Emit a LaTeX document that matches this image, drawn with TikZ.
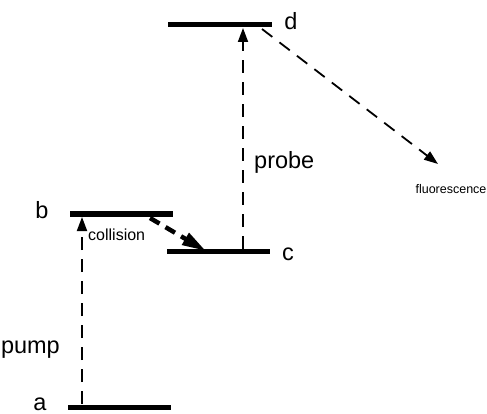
\documentclass[tikz,border=0pt]{standalone}
\usepackage{fontspec}
\setmainfont{Liberation Sans}
\usetikzlibrary{arrows.meta}
\begin{document}
\begin{tikzpicture}[x=1pt,y=-1pt,
  level/.style={line width=5pt},
  trans/.style={line width=1.8pt, dash pattern=on 13pt off 9pt, -{Triangle[length=14pt,width=10pt]}},
  lab/.style={font=\fontsize{23.5}{23.5}\selectfont, inner sep=0pt},
  small/.style={font=\fontsize{16}{16}\selectfont, inner sep=0pt}]
\useasboundingbox (0,0) rectangle (487,414);
% levels
\coordinate (dL) at (168,25); \coordinate (dR) at (272,25);
\coordinate (bL) at (70,214); \coordinate (bR) at (173,214);
\coordinate (cL) at (167,251); \coordinate (cR) at (270,251);
\coordinate (aL) at (68,407); \coordinate (aR) at (171,407);
\draw[level] (dL) -- (dR);
\draw[level] (bL) -- (bR);
\draw[level] (cL) -- (cR);
\draw[level] (aL) -- (aR);
% labels
\node[lab] (ld) at (291,21) {d};
\node[lab] (lb) at (42,210) {b};
\node[lab] (lc) at (288,254) {c};
\node[lab] (la) at (40,404) {a};
\node[lab, anchor=west] (lprobe) at (254,162) {probe};
\node[lab, anchor=east] (lpump) at (60,350) {pump};
\node[small, anchor=west] (lcoll) at (88,235) {collision};
\node[font=\fontsize{12.5}{12.5}\selectfont, inner sep=0pt] (lfl) at (451,189) {fluorescence};
% transitions
\coordinate (pumpS) at (82,404);
\coordinate (pumpE) at (82,217);
\draw[trans] (pumpS) -- (pumpE);
\coordinate (probeS) at (243,249);
\coordinate (probeE) at (243,28);
\draw[trans] (probeS) -- (probeE);
\coordinate (flS) at (262,29);
\coordinate (flE) at (438,164);
\draw[trans] (flS) -- (flE);
\coordinate (colS) at (150,218);
\coordinate (colE) at (206,251);
\draw[line width=4.5pt, dash pattern=on 11pt off 7pt, -{Triangle[length=24pt,width=13pt]}] (colS) -- (colE);
\end{tikzpicture}
\end{document}
